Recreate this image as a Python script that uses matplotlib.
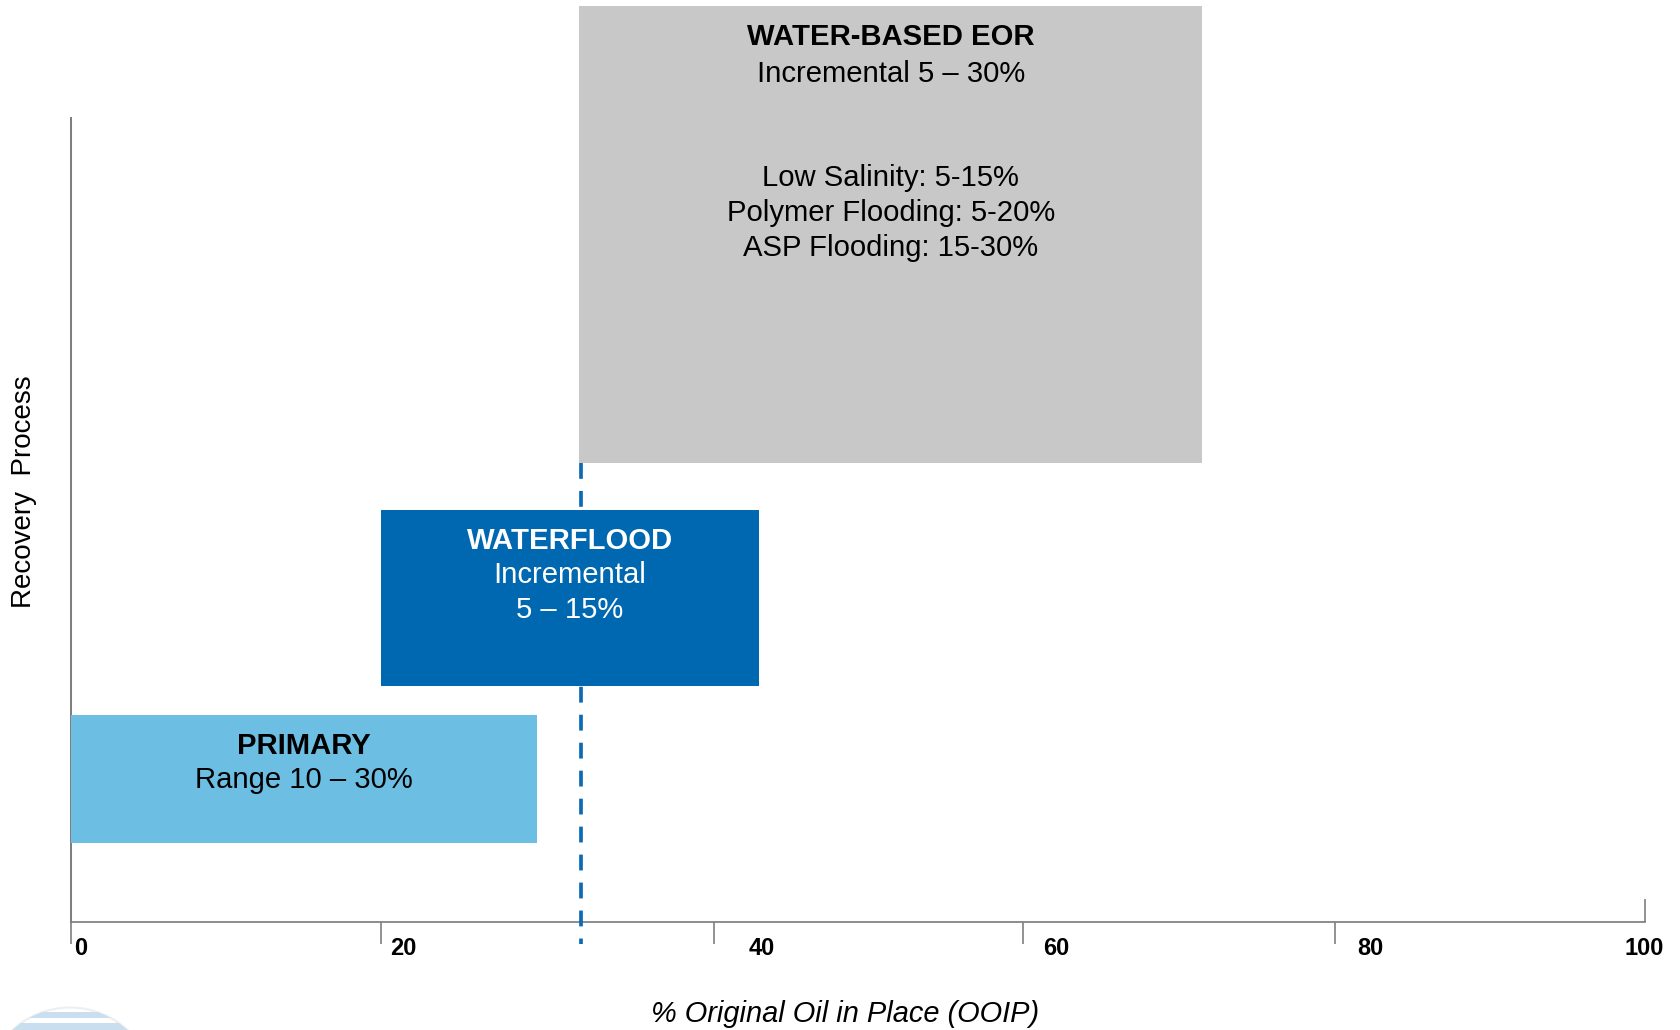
import matplotlib
matplotlib.use("Agg")
import matplotlib.pyplot as plt
from matplotlib.patches import Circle, Rectangle
from matplotlib.lines import TICKUP

plt.rcParams['font.family'] = ['Liberation Sans', 'DejaVu Sans']

# ---------------- data ----------------
processes = ["PRIMARY", "WATERFLOOD", "WATER-BASED EOR"]
range_start = [0.0, 19.7, 32.3]      # % OOIP
range_end = [29.6, 43.7, 71.9]       # % OOIP
bar_lines = [
    ["PRIMARY", "Range 10 – 30%"],
    ["WATERFLOOD", "Incremental", "5 – 15%"],
    ["WATER-BASED EOR", "Incremental 5 – 30%"],
]
eor_methods = ["Low Salinity: 5-15%", "Polymer Flooding: 5-20%", "ASP Flooding: 15-30%"]
current_recovery = 32.4
tick_values = [0, 19.7, 40.9, 60.5, 80.3, 100]
tick_labels = ["0", "20", "40", "60", "80", "100"]
tick_label_x = [0.6, 21.1, 43.9, 62.6, 82.6, 100.0]
x_label = "% Original Oil in Place (OOIP)"
y_label = "Recovery  Process"

# ---------------- layout / style ----------------
bar_bottom = [78.8, 235.8, 458.2]    # pixels above the x axis line
bar_top = [206.5, 411.5, 915.5]
line_gap = [34.4, 34.4, 36.5]        # pixel spacing of text lines in each bar
colors = ["#6CBFE3", "#0067B1", "#C8C8C8"]
text_colors = ["black", "white", "black"]
axis_color = "#7F7F7F"
PT = 0.72  # pixels -> points at dpi 100

W, H = 1681, 1030
fig = plt.figure(figsize=(W / 100, H / 100), dpi=100)
axis_y_px = 921.5
x0_px, x1_px = 70.8, 1644.6

# decorative logo fragment (bottom-left)
lax = fig.add_axes([0, 0, 1, 1], zorder=-1)
lax.set_xlim(0, W)
lax.set_ylim(H, 0)
lax.axis('off')
circ = Circle((70, 1092), 84.5, facecolor='white', edgecolor='#EEEEEE', lw=1.5)
lax.add_patch(circ)
for y0, y1 in [(1012, 1018), (1023, 1032)]:
    r = Rectangle((0, y0), 200, y1 - y0, facecolor='#C9DFF0', edgecolor='none')
    lax.add_patch(r)
    r.set_clip_path(circ)

ax = fig.add_axes([x0_px / W, (H - axis_y_px) / H, (x1_px - x0_px) / W, axis_y_px / H])
ax.set_xlim(0, 100)
ax.set_ylim(0, axis_y_px)
ax.patch.set_visible(False)

centers = [(b + t) / 2 for b, t in zip(bar_bottom, bar_top)]
heights = [t - b for b, t in zip(bar_bottom, bar_top)]
widths = [e - s for s, e in zip(range_start, range_end)]
ax.barh(centers, widths, left=range_start, height=heights, color=colors,
        linewidth=0, zorder=4)

# current recovery dashed line
ax.plot([current_recovery, current_recovery], [bar_bottom[2], -22],
        color='#0A6AB4', lw=2.65, linestyle=(0, (4.3, 3.3)),
        dash_capstyle='butt', zorder=3, clip_on=False)

# bar texts
for i in range(len(processes)):
    cx = (range_start[i] + range_end[i]) / 2
    for k, line in enumerate(bar_lines[i]):
        ax.annotate(line, xy=(cx, bar_top[i]), xytext=(0, -(39 + line_gap[i] * k) * PT),
                    textcoords='offset points', ha='center', va='baseline',
                    fontsize=21.1, fontweight='bold' if k == 0 else 'normal',
                    color=text_colors[i], zorder=5)
cx = (range_start[2] + range_end[2]) / 2
for k, line in enumerate(eor_methods):
    ax.annotate(line, xy=(cx, bar_top[2]), xytext=(0, -(180 + 35.0 * k) * PT),
                textcoords='offset points', ha='center', va='baseline',
                fontsize=21.1, color='black', zorder=5)

# axes styling
ax.spines['top'].set_visible(False)
ax.spines['right'].set_visible(False)
ax.spines['left'].set_bounds(0, 803.2)
ax.spines['left'].set_color(axis_color)
ax.spines['left'].set_linewidth(1.45)
ax.spines['bottom'].set_bounds(0, 100)
ax.spines['bottom'].set_color(axis_color)
ax.spines['bottom'].set_linewidth(1.25)
ax.set_yticks([])
ax.set_xticks(tick_values)
ax.set_xticklabels([])
ax.tick_params(axis='x', direction='out', length=15.6, width=1.2, color=axis_color)
last = ax.xaxis.get_major_ticks()[-1]
last.tick1line.set_marker(TICKUP)
last.tick1line.set_markersize(16.9)

for lx, lab in zip(tick_label_x, tick_labels):
    ax.annotate(lab, xy=(lx, 0), xytext=(0, -33.5 * PT), textcoords='offset points',
                ha='center', va='baseline', fontsize=17, fontweight='bold',
                annotation_clip=False)

fig.text(845 / W, (H - 1022.3) / H, x_label, style='italic', fontsize=20.9,
         ha='center', va='baseline')
fig.text(23.6 / W, (H - 492) / H, y_label, rotation=90, fontsize=20,
         ha='center', va='center')

fig.savefig('out.png', dpi=100)
